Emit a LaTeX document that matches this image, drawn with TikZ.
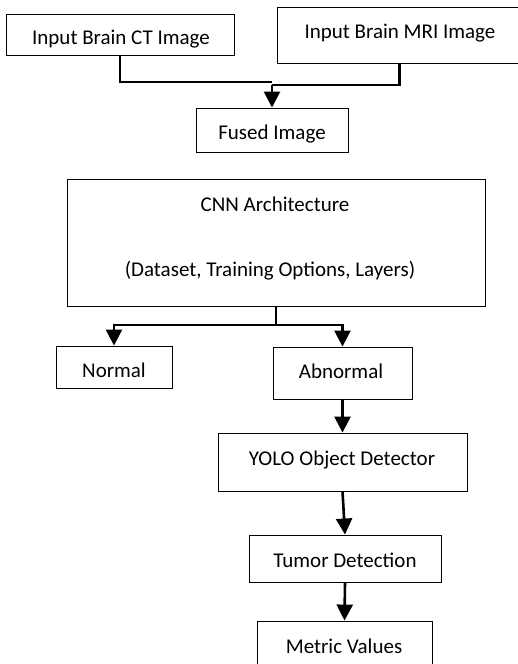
\documentclass[tikz,border=0pt]{standalone}
\usepackage{fontspec}
\setmainfont{Carlito}
\usetikzlibrary{arrows.meta}
\begin{document}
\begin{tikzpicture}[x=1pt, y=-1pt,
  box/.style={draw, line width=0.9pt, rectangle, inner sep=0pt},
  txt/.style={anchor=base, inner sep=0pt, font=\fontsize{21}{25}\selectfont},
  wire/.style={line width=2.6pt},
  conn/.style={line width=2.6pt, -{Triangle[length=16pt,width=16pt]}}]
\useasboundingbox (0,0) rectangle (518,664);

% boxes
\node[box, minimum width=228pt, minimum height=41pt] (ct) at (120,34.5) {};
\node[box, minimum width=245pt, minimum height=56pt] (mri) at (399.5,35) {};
\node[box, minimum width=152pt, minimum height=44pt] (fused) at (272,130) {};
\node[box, minimum width=418pt, minimum height=127pt] (cnn) at (276,242.5) {};
\node[box, minimum width=116pt, minimum height=42pt] (normal) at (114,367) {};
\node[box, minimum width=139pt, minimum height=52pt] (abn) at (342.5,373) {};
\node[box, minimum width=249pt, minimum height=58pt] (yolo) at (342.5,462) {};
\node[box, minimum width=192pt, minimum height=47pt] (tumor) at (345,558.5) {};
\node[box, minimum width=175pt, minimum height=49pt] (metric) at (344.5,645.5) {};

% labels
\node[txt] (tct) at (121,44) {Input Brain CT Image};
\node[txt] (tmri) at (400,38) {Input Brain MRI Image};
\node[txt] (tfused) at (272,139) {Fused Image};
\node[txt] (tcnn1) at (275,211) {CNN Architecture};
\node[txt] (tcnn2) at (270,276) {(Dataset, Training Options, Layers)};
\node[txt] (tnormal) at (114,377) {Normal};
\node[txt] (tabn) at (341,378) {Abnormal};
\node[txt] (tyolo) at (342,465) {YOLO Object Detector};
\node[txt] (ttumor) at (345,567) {Tumor Detection};
\node[txt] (tmetric) at (344,653) {Metric Values};

% junction points
\coordinate (jct) at (272,82);
\coordinate (jmri) at (272,85);
\coordinate (split) at (276,325);

% connectors
\draw[wire] (ct.south) |- (jct);
\draw[wire] (mri.south) |- (jmri);
\draw[conn] (jmri) -- (fused.north);
\draw[wire] (cnn.south) -- (split);
\draw[conn] (split) -| (normal.north);
\draw[conn] (split) -| (abn.north);
\draw[conn] (abn.south) -- (yolo.north);
\draw[conn] (yolo.south) -- (tumor.north);
\draw[conn] (tumor.south) -- (metric.north);
\end{tikzpicture}
\end{document}
